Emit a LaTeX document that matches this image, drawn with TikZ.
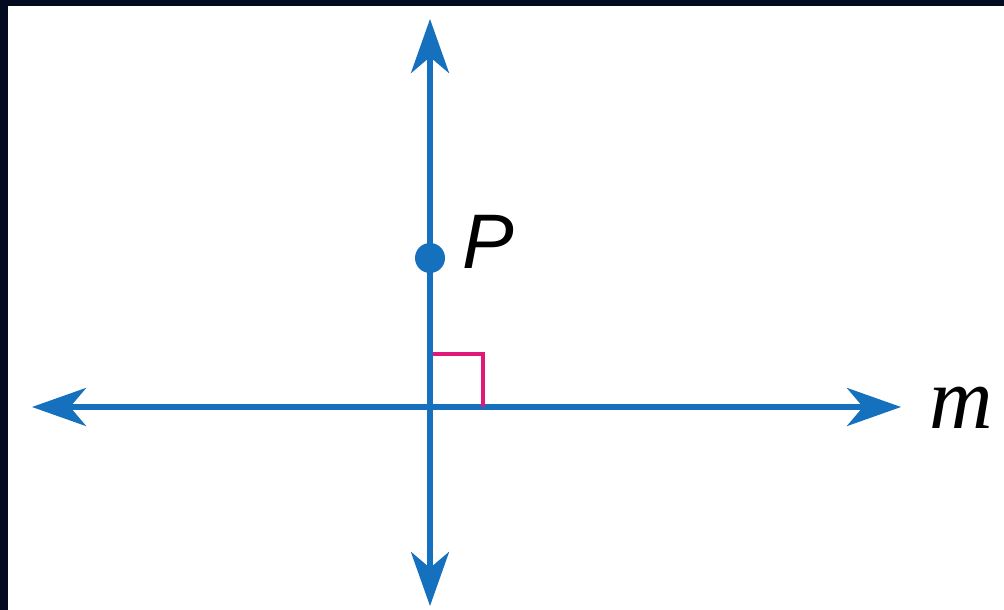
\documentclass[tikz,border=0pt]{standalone}
\usepackage{fontspec}
\usepackage{tikz}
\usetikzlibrary{arrows.meta,calc,positioning}
\newfontfamily\labelsans{Liberation Sans}
\newfontfamily\labelserif{Liberation Serif}
\definecolor{frame}{HTML}{020B1F}
\definecolor{lineblue}{HTML}{1570BE}
\definecolor{rightmark}{HTML}{E0187A}
\tikzset{bluearrow/.style={draw=lineblue,line width=1.45pt,{Stealth[length=5.4mm,width=3.8mm,inset=1.6mm]}-{Stealth[length=5.4mm,width=3.8mm,inset=1.6mm]}},ptdot/.style={circle,fill=lineblue,inner sep=0pt,minimum size=3mm},ptlabel/.style={font=\labelsans\itshape\fontsize{22}{22}\selectfont,inner sep=0pt},linelabel/.style={font=\labelserif\itshape\fontsize{25}{25}\selectfont,inner sep=0pt},anglemark/.style={draw=rightmark,line width=1.1pt}}

\begin{document}
\begin{tikzpicture}[x=.01cm,y=-.01cm]
\fill[frame] (0,0) rectangle (1004,610);
\fill[white] (8,6) rectangle (1004,610);
\coordinate (up) at (430,19);
\coordinate (down) at (430,606);
\coordinate (left) at (32,407);
\coordinate (right) at (901,407);
\coordinate (foot) at (430,407);
\draw[bluearrow] (down) -- (up);
\draw[bluearrow] (left) -- (right);
\node[ptdot] (P) at (430,258) {};
\node[ptlabel] (Plabel) at (488,242) {P};
\node[linelabel] (m) at (961,408) {m};
\draw[anglemark] ($(foot)+(3,-53)$) -| ($(foot)+(53,0)$);
\end{tikzpicture}
\end{document}
